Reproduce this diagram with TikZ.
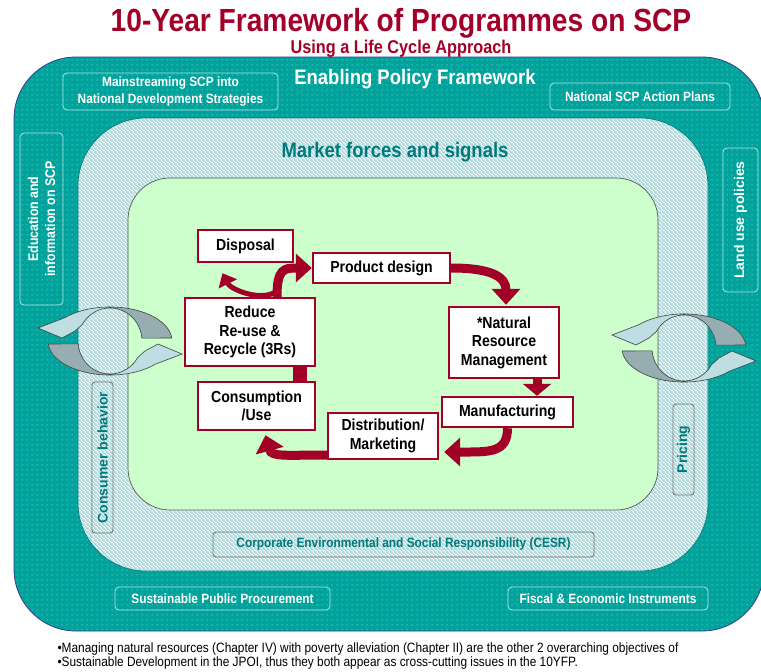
\documentclass[tikz,border=0pt]{standalone}
\usepackage{fontspec}
\setmainfont{Liberation Sans}
\newfontfamily\condfont[FakeStretch=0.88]{Liberation Sans}
\usetikzlibrary{arrows.meta,patterns.meta,calc}

\definecolor{tealbg}{RGB}{0,163,155}
\definecolor{tealdot}{RGB}{110,204,198}
\definecolor{tealtxt}{RGB}{0,122,122}
\definecolor{stripe}{RGB}{168,212,218}
\definecolor{greenbg}{RGB}{204,255,204}
\definecolor{scpred}{RGB}{163,0,40}
\definecolor{swirllight}{RGB}{190,222,228}
\definecolor{swirldark}{RGB}{150,174,178}
\definecolor{rimblue}{RGB}{50,60,140}

\tikzdeclarepattern{
  name=tealdots,
  type=uncolored,
  bottom left={(0pt,0pt)},
  top right={(5pt,5pt)},
  tile size={(5pt,5pt)},
  code={\fill (2pt,2pt) rectangle (3.2pt,3.2pt);}
}
\tikzdeclarepattern{
  name=nwstripes,
  type=uncolored,
  bottom left={(0pt,0pt)},
  top right={(4pt,4pt)},
  tile size={(4pt,4pt)},
  code={
    \draw[line width=1.5pt] (-1pt,5pt) -- (5pt,-1pt);
    \draw[line width=1.5pt] (-1pt,1pt) -- (1pt,-1pt);
    \draw[line width=1.5pt] (3pt,5pt) -- (5pt,3pt);
  }
}

% one half of the turning arrows
\newcommand\swirlhalf[1]{\path[#1] (61.8,-3) arc[start angle=-5, end angle=-137, x radius=62, y radius=34]
  -- (-72,-13) -- (-48,-3) -- (-35,-10) -- (-27.7,-16.5)
  arc[start angle=-150, end angle=-5, x radius=32, y radius=33] -- cycle;}

\tikzset{
  policybox/.style={draw=white!70!tealbg, line width=0.8pt, rounded corners=4pt, text=white,
    font=\condfont\bfseries\fontsize{13.5}{16.5}\selectfont, align=center, inner sep=0pt},
  marketbox/.style={draw=black!55, line width=0.9pt, rounded corners=3pt, text=tealtxt,
    font=\bfseries\fontsize{14}{16}\selectfont, inner sep=0pt},
  stagebox/.style={draw=scpred, line width=2.4pt, fill=white, align=center,
    font=\condfont\bfseries\fontsize{16}{18.5}\selectfont, inner sep=0pt},
  flow/.style={draw=scpred, line width=9pt, -{Triangle[width=28pt,length=16pt]}},
  swirl/.pic={
    \swirlhalf{fill=swirllight}
    \begin{scope}
      \clip (4,-40) rectangle (80,4);
      \swirlhalf{fill=swirldark}
    \end{scope}
    \swirlhalf{draw=black!75, line width=0.6pt}
    \begin{scope}[rotate=180]
      \swirlhalf{fill=swirllight}
      \begin{scope}
        \clip (4,-40) rectangle (80,4);
        \swirlhalf{fill=swirldark}
      \end{scope}
      \swirlhalf{draw=black!75, line width=0.6pt}
    \end{scope}
  }
}

\begin{document}
\begin{tikzpicture}[x=1pt,y=-1pt]
\useasboundingbox (0,0) rectangle (761,672);

% frames
\path[fill=tealbg, rounded corners=62pt, postaction={pattern=tealdots, pattern color=tealdot}]
  (14,57) rectangle (764,631);
\draw[rimblue, line width=0.8pt, rounded corners=62pt] (14,57) rectangle (764,631);
\path[fill=white, rounded corners=68pt, postaction={pattern=nwstripes, pattern color=stripe}]
  (78,118) rectangle (708,571);
\draw[tealbg!75!black, line width=0.7pt, rounded corners=68pt] (78,118) rectangle (708,571);
\draw[fill=greenbg, draw=black!65, line width=0.7pt, rounded corners=42pt] (128,178) rectangle (658,510);

% titles
\node[anchor=base, text=scpred, font=\condfont\bfseries\fontsize{32}{36}\selectfont] (title) at (401,31)
  {10-Year Framework of Programmes on SCP};
\node[anchor=base, text=scpred, font=\condfont\bfseries\fontsize{18.5}{20}\selectfont] (subtitle) at (401,53)
  {Using a Life Cycle Approach};
\node[anchor=base, text=white, font=\condfont\bfseries\fontsize{21}{24}\selectfont] (enabling) at (415,84)
  {Enabling Policy Framework};
\node[anchor=base, text=tealtxt, font=\condfont\bfseries\fontsize{21}{24}\selectfont] (market) at (395,157)
  {Market forces and signals};

% turning arrows
\pic at (110,341) {swirl};
\pic at (684,348) {swirl};

% policy instruments
\node[policybox, minimum width=215, minimum height=37] (mainstream) at (170.5,91.5)
  {Mainstreaming SCP into\\National Development Strategies};
\node[policybox, minimum width=180, minimum height=27] (actionplans) at (640,96.5) {National SCP Action Plans};
\node[policybox, rotate=90, minimum width=172, minimum height=43,
  font=\condfont\bfseries\fontsize{14}{17}\selectfont] (education) at (41.5,219)
  {Education and\\information on SCP};
\node[policybox, rotate=90, minimum width=144, minimum height=35,
  font=\bfseries\fontsize{14}{16}\selectfont] (landuse) at (740.5,220) {Land use policies};
\node[policybox, minimum width=215, minimum height=23] (procurement) at (222.5,598.5) {Sustainable Public Procurement};
\node[policybox, minimum width=200, minimum height=23] (fiscal) at (608,598.5) {Fiscal \& Economic Instruments};

% market boxes
\node[marketbox, rotate=90, minimum width=151, minimum height=21] (consumer) at (102.5,457.5) {Consumer behavior};
\node[marketbox, rotate=90, minimum width=91, minimum height=21] (pricing) at (683.5,449.5) {Pricing};
\node[marketbox, minimum width=381, minimum height=25, font=\condfont\bfseries\fontsize{13.5}{16}\selectfont]
  (cesr) at (403.5,544.5) {Corporate Environmental and Social Responsibility (CESR)};

% life cycle stages
\node[stagebox, minimum width=95, minimum height=32] (disposal) at (245.5,246) {Disposal};
\node[stagebox, minimum width=137, minimum height=30] (design) at (381.5,268) {Product design};
\node[stagebox, minimum width=130, minimum height=68] (reduce) at (250,332) {Reduce\\Re-use \&\\Recycle (3Rs)};
\node[stagebox, minimum width=110, minimum height=71] (nrm) at (504,342.5) {*Natural\\Resource\\Management};
\node[stagebox, minimum width=131, minimum height=30] (mfg) at (507.5,412) {Manufacturing};
\node[stagebox, minimum width=117, minimum height=48] (cons) at (256.5,406) {Consumption\\/Use};
\node[stagebox, minimum width=110, minimum height=46] (dist) at (383,436) {Distribution/\\Marketing};

% cycle
\draw[flow] (design.east) .. controls +(40,0) and +(0,-28) .. ($(nrm.north)+(2,-1)$);
\draw[flow, -{Triangle[width=28pt,length=12pt]}] ($(nrm.south)+(33,0)$) -- ($(nrm.south |- mfg.north)+(33,0)$);
\draw[flow] (mfg.south) .. controls +(0,25) and +(45,0) .. ($(dist.east)+(5,16)$);
\draw[flow] ($(dist.west)+(0,19)$) .. controls +(-40,0) and +(6,22) .. ($(cons.south)+(9,4)$);
\draw[scpred, line width=14pt] ($(reduce.south)+(50,0)$) -- ($(reduce.south |- cons.north)+(50,0)$);
\draw[flow] ($(reduce.north)+(27,0)$) .. controls +(0,-28) and +(-28,0) .. (design.west);
\draw[flow, line width=5pt, -{Triangle[width=20pt,length=12pt]}] ($(reduce.north)+(24,-4)$)
  .. controls +(-16,8) and +(8,16) .. ($(disposal.south)+(-23,10)$);

% notes
\node[anchor=base west, font=\condfont\fontsize{13.5}{15}\selectfont] (note1) at (54,652)
  {•Managing natural resources (Chapter IV) with poverty alleviation (Chapter II) are the other 2 overarching objectives of};
\node[anchor=base west, font=\condfont\fontsize{13.5}{15}\selectfont] (note2) at (54,666)
  {•Sustainable Development in the JPOI, thus they both appear as cross-cutting issues in the 10YFP.};
\end{tikzpicture}
\end{document}
